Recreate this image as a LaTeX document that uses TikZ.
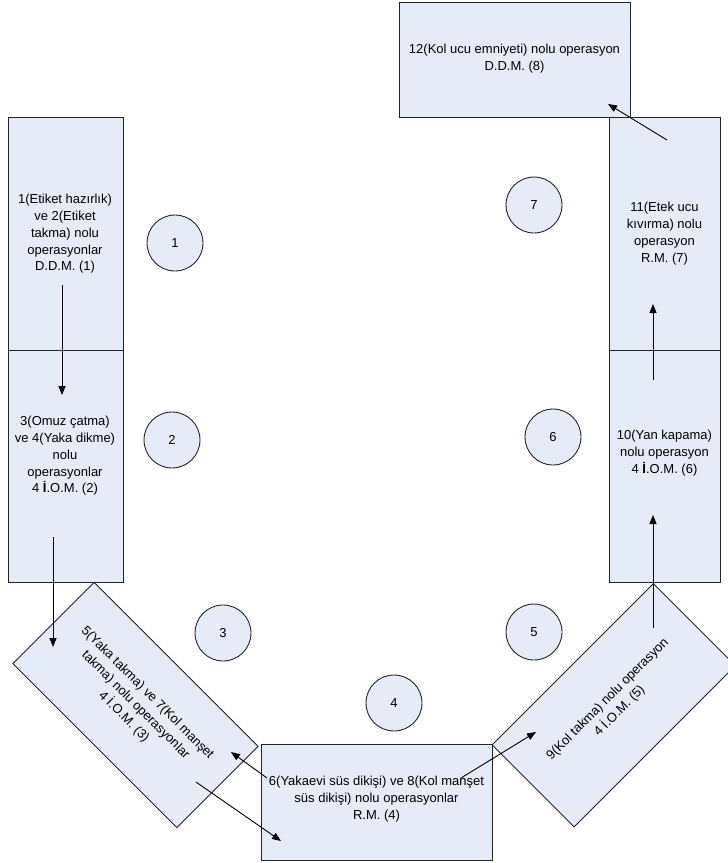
\documentclass[tikz,border=0pt]{standalone}
\usepackage{fontspec}
\setmainfont{Liberation Sans}
\usetikzlibrary{arrows.meta}
\definecolor{boxfill}{RGB}{230,236,247}
\definecolor{edge}{RGB}{35,35,35}

\begin{document}
\begin{tikzpicture}[x=1pt,y=-1pt,
  box/.style={draw=edge, fill=boxfill, line width=0.9pt, inner sep=0pt, outer sep=0pt},
  lbl/.style={font=\fontsize{13}{16.8}\selectfont, align=center, inner sep=0pt},
  num/.style={circle, draw=edge, fill=boxfill, line width=0.9pt, minimum size=56pt,
              inner sep=0pt, font=\fontsize{13}{16}\selectfont},
  flow/.style={-{Triangle[length=9pt,width=7pt]}, line width=0.9pt}]
\useasboundingbox (0,0) rectangle (728,863);
\clip (0,0) rectangle (728,863);

% workstations, left column
\node[box, minimum width=115pt, minimum height=233pt] (b1) at (65.5,233.5) {};
\node[box, minimum width=115pt, minimum height=232pt] (b2) at (65.5,466) {};
% tilted stations at the bottom corners
\node[box, minimum width=232pt, minimum height=115pt, rotate=-45, lbl] (b3) at (135.5,705)
  {5(Yaka takma) ve 7(Kol manşet\\takma) nolu operasyonlar\\4 İ.O.M. (3)};
\node[box, minimum width=228pt, minimum height=116pt, rotate=45, lbl] (b5) at (613.75,705.25)
  {9(Kol takma) nolu operasyon\\4 İ.O.M. (5)};
% bottom station
\node[box, minimum width=231pt, minimum height=116pt] (b4) at (376.5,802) {};
% right column
\node[box, minimum width=111pt, minimum height=232pt] (b6) at (664.5,466) {};
\node[box, minimum width=111pt, minimum height=233pt] (b7) at (664.5,233.5) {};
% top station
\node[box, minimum width=231pt, minimum height=115pt] (b8) at (514.5,59.5) {};

% station texts
\node[lbl] (t1) at (65,234) {1(Etiket hazırlık)\\ve 2(Etiket\\takma) nolu\\operasyonlar\\D.D.M. (1)};
\node[lbl] (t2) at (65,456) {3(Omuz çatma)\\ve 4(Yaka dikme)\\nolu\\operasyonlar\\4 {\bfseries İ}.O.M. (2)};
\node[lbl] (t4) at (376.5,799) {6(Yakaevi süs dikişi) ve 8(Kol manşet\\süs dikişi) nolu operasyonlar\\R.M. (4)};
\node[lbl] (t6) at (664.5,453) {10(Yan kapama)\\nolu operasyon\\4 {\bfseries İ}.O.M. (6)};
\node[lbl] (t7) at (664.5,233.5) {11(Etek ucu\\kıvırma) nolu\\operasyon\\R.M. (7)};
\node[lbl] (t8) at (514.5,58.5) {12(Kol ucu emniyeti) nolu operasyon\\D.D.M. (8)};

% numbered markers
\node[num] (c1) at (175,243) {1};
\node[num] (c2) at (172,440) {2};
\node[num] (c3) at (223,633) {3};
\node[num] (c4) at (394,703) {4};
\node[num] (c5) at (534,632) {5};
\node[num] (c6) at (553,437) {6};
\node[num] (c7) at (534,205) {7};

% flow of work between stations
\coordinate (s12) at (62,285);   \coordinate (e12) at (62,395);
\coordinate (s23) at (53,537);   \coordinate (e23) at (53,647);
\coordinate (s34) at (196,782);  \coordinate (e34) at (281,841);
\coordinate (s43) at (267,778);  \coordinate (e43) at (231,752);
\coordinate (s45) at (461,778);  \coordinate (e45) at (536,732);
\coordinate (s56) at (653,628);  \coordinate (e56) at (653,515);
\coordinate (s67) at (653,380);  \coordinate (e67) at (653,304);
\coordinate (s78) at (667,140);  \coordinate (e78) at (608,104);

\draw[flow] (s12) -- (e12);
\draw[flow] (s23) -- (e23);
\draw[flow] (s34) -- (e34);
\draw[flow] (s43) -- (e43);
\draw[flow] (s45) -- (e45);
\draw[flow] (s56) -- (e56);
\draw[flow] (s67) -- (e67);
\draw[flow] (s78) -- (e78);
\end{tikzpicture}
\end{document}
